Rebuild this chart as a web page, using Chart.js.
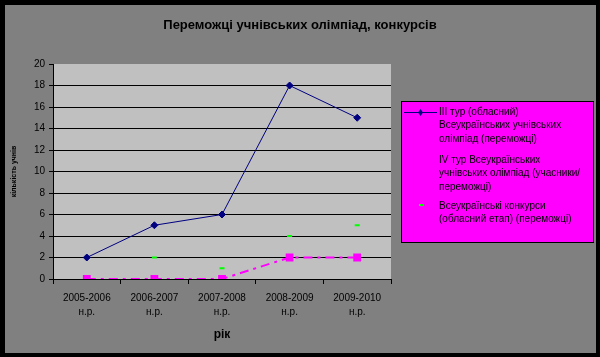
<!DOCTYPE html>
<html>
<head>
<meta charset="utf-8">
<script src="https://cdn.jsdelivr.net/npm/chart.js@4"></script>
<style>
html,body{margin:0;padding:0;background:#000;}
#wrap{width:600px;height:357px;position:relative;}
</style>
</head>
<body>
<div id="wrap"><canvas id="c" width="600" height="357"></canvas></div>
<script>
const chartTitle = 'Переможці учнівських олімпіад, конкурсів';
const xTitle = 'рік';
const yTitle = 'кількість учнів';
const categories = [['2005-2006','н.р.'],['2006-2007','н.р.'],['2007-2008','н.р.'],['2008-2009','н.р.'],['2009-2010','н.р.']];
const seriesNames = [
  ['ІІІ тур (обласний)','Всеукраїнських учнівських','олімпіад (переможці)'],
  ['ІV тур Всеукраїнських','учнівських олімпіад (учасники/','переможці)'],
  ['Всеукраїнські конкурси','(обласний етап) (переможці)']
];
const olympRegional = [2, 5, 6, 18, 15];
const olympNational = [0, 0, 0, 2, 2];
const contests = [0, 2, 1, 4, 5];
const yMin = 0, yMax = 20, yStep = 2;

const bgPlugin = {
  id: 'bg',
  beforeDraw(chart) {
    const ctx = chart.ctx, a = chart.chartArea;
    ctx.save();
    ctx.fillStyle = '#000';
    ctx.fillRect(0, 0, 600, 357);
    ctx.fillStyle = '#808080';
    ctx.fillRect(5, 5, 591, 348);
    ctx.fillStyle = '#C0C0C0';
    ctx.fillRect(a.left, a.top, a.right - a.left, a.bottom - a.top);
    ctx.fillStyle = '#000';
    ctx.font = 'bold 13px "Liberation Sans", Arial, sans-serif';
    ctx.textAlign = 'center';
    ctx.textBaseline = 'middle';
    ctx.fillText(chartTitle, 300, 25);
    ctx.restore();
  },
  afterDraw(chart) {
    const ctx = chart.ctx;
    ctx.save();
    ctx.fillStyle = '#FF00FF';
    ctx.fillRect(401, 101, 193, 142);
    ctx.strokeStyle = '#000';
    ctx.lineWidth = 1;
    ctx.strokeRect(401.5, 101.5, 192, 141);
    ctx.font = '10px "Liberation Sans", Arial, sans-serif';
    ctx.textAlign = 'left';
    ctx.textBaseline = 'middle';
    ctx.fillStyle = '#000';
    const starts = [112, 160, 206];
    seriesNames.forEach((lines, i) => {
      lines.forEach((t, j) => ctx.fillText(t, 439, starts[i] + j * 13.5));
    });
    ctx.strokeStyle = '#000080';
    ctx.beginPath(); ctx.moveTo(404, 112.5); ctx.lineTo(437, 112.5); ctx.stroke();
    ctx.fillStyle = '#000080';
    ctx.beginPath(); ctx.moveTo(420.5, 109); ctx.lineTo(423, 112.5); ctx.lineTo(420.5, 116); ctx.lineTo(418, 112.5); ctx.closePath(); ctx.fill();
    ctx.strokeStyle = '#00FF00'; ctx.lineWidth = 2;
    ctx.beginPath(); ctx.moveTo(419, 205); ctx.lineTo(424, 205); ctx.stroke();
    ctx.restore();
  }
};

new Chart(document.getElementById('c'), {
  type: 'line',
  data: {
    labels: categories,
    datasets: [
      { label: seriesNames[0].join(' '), data: olympRegional, borderColor: '#000080', backgroundColor: '#000080', borderWidth: 1, pointStyle: 'rectRot', pointRadius: 3.5, pointBorderWidth: 1, tension: 0 },
      { label: seriesNames[1].join(' '), data: olympNational, borderColor: '#FF00FF', backgroundColor: '#FF00FF', borderWidth: 2, borderDash: [9, 5, 3, 5], pointStyle: 'rect', pointRadius: 5.5, pointBorderWidth: 0, tension: 0 },
      { label: seriesNames[2].join(' '), data: contests, borderColor: '#00FF00', backgroundColor: '#00FF00', showLine: false, pointStyle: 'line', pointRadius: 2.5, pointBorderWidth: 2 }
    ]
  },
  options: {
    responsive: false,
    animation: false,
    layout: { padding: { left: 5, top: 64, right: 209, bottom: 4 } },
    plugins: { legend: { display: false }, title: { display: false }, tooltip: { enabled: false } },
    scales: {
      x: {
        offset: true,
        grid: { offset: true, drawOnChartArea: false, drawTicks: true, tickLength: 5, color: '#000', tickColor: '#000' },
        border: { color: '#000', width: 1 },
        ticks: { color: '#000', font: { family: '"Liberation Sans", Arial, sans-serif', size: 10, lineHeight: 1.4 }, padding: 7, maxRotation: 0, autoSkip: false },
        title: { display: true, text: xTitle, color: '#000', font: { family: '"Liberation Sans", Arial, sans-serif', size: 12, weight: 'bold' }, padding: { top: 0, bottom: 11 } },
        afterFit(s) { s.height = 357 - 4 - 279; }
      },
      y: {
        min: yMin, max: yMax,
        ticks: { stepSize: yStep, color: '#000', font: { family: '"Liberation Sans", Arial, sans-serif', size: 10 }, padding: 4 },
        grid: { color: c => (c.tick && c.tick.value === yMax) ? 'rgba(0,0,0,0)' : '#000', tickColor: '#000', tickLength: 4 },
        border: { color: '#000', width: 1 },
        title: { display: true, text: yTitle, color: '#000', font: { family: '"Liberation Sans", Arial, sans-serif', size: 7, weight: 'bold' }, padding: 5 },
        afterFit(s) { s.width = 48; }
      }
    }
  },
  plugins: [bgPlugin]
});
</script>
</body>
</html>
